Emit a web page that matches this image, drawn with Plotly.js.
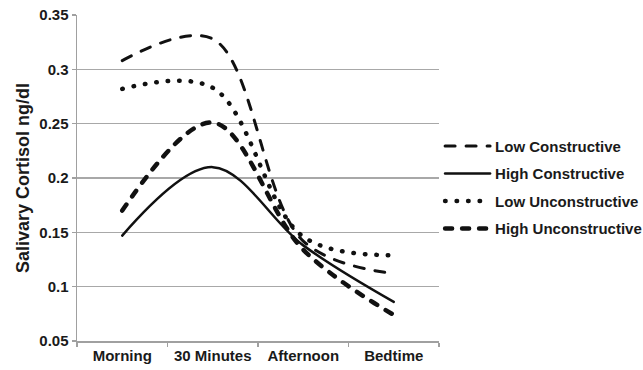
<!DOCTYPE html>
<html>
<head>
<meta charset="utf-8">
<script src="https://cdn.plot.ly/plotly-3.0.1.min.js"></script>
<style>
  html, body { margin: 0; padding: 0; background: #fff; }
  #chart { width: 643px; height: 370px; }
  path.js-line { stroke-linecap: round; }
</style>
</head>
<body>
<div id="chart"></div>
<script>
const categories = ["Morning", "30 Minutes", "Afternoon", "Bedtime"];
const seriesNames = ["Low Constructive", "High Constructive", "Low Unconstructive", "High Unconstructive"];
const lowConstructive = [0.308, 0.328, 0.142, 0.112];
const highConstructive = [0.147, 0.210, 0.138, 0.086];
const lowUnconstructive = [0.282, 0.283, 0.146, 0.129];
const highUnconstructive = [0.170, 0.251, 0.134, 0.074];
const yTickVals = [0.05, 0.1, 0.15, 0.2, 0.25, 0.3, 0.35];
const yTickText = ["0.05", "0.1", "0.15", "0.2", "0.25", "0.3", "0.35"];

const values = [lowConstructive, highConstructive, lowUnconstructive, highUnconstructive];
const lineStyles = [
  {color: "#111", width: 3, dash: "10px,11px"},
  {color: "#111", width: 2.5, dash: "solid"},
  {color: "#111", width: 4.5, dash: "0.5px,11px"},
  {color: "#111", width: 4.5, dash: "7px,10px"}
];

const traces = values.map((v, i) => ({
  type: "scatter",
  mode: "lines",
  x: categories,
  y: v,
  name: seriesNames[i],
  legendgroup: "g" + i,
  line: Object.assign({shape: "spline", smoothing: 1}, lineStyles[i]),
  hoverinfo: "skip"
}));

const fontFam = "Liberation Sans, Arial, sans-serif";
const layout = {
  width: 643,
  height: 370,
  margin: {l: 77, r: 204, t: 15, b: 29, autoexpand: false},
  paper_bgcolor: "#fff",
  plot_bgcolor: "#fff",
  showlegend: true,
  font: {family: fontFam, color: "#1a1a1a"},
  xaxis: {
    type: "category",
    range: [-0.5, 3.5],
    showgrid: false,
    zeroline: false,
    showline: true,
    linecolor: "#a0a0a0",
    linewidth: 1.5,
    ticks: "outside",
    tickson: "boundaries",
    ticklen: 4,
    tickcolor: "#a0a0a0",
    tickwidth: 1.5,
    tickangle: 0,
    tickfont: {family: fontFam, size: 15, color: "#1a1a1a", weight: "bold"}
  },
  yaxis: {
    range: [0.05, 0.35],
    tickvals: yTickVals,
    ticktext: yTickText,
    showgrid: true,
    gridcolor: "#a8a8a8",
    gridwidth: 1.6,
    zeroline: false,
    showline: true,
    linecolor: "#a0a0a0",
    linewidth: 1.5,
    ticks: "outside",
    ticklen: 4,
    tickcolor: "#a0a0a0",
    tickwidth: 1.5,
    tickfont: {family: fontFam, size: 15, color: "#1a1a1a", weight: "bold"},
    title: {text: "Salivary Cortisol ng/dl", font: {family: fontFam, size: 18, color: "#1a1a1a", weight: "bold"}, standoff: 5}
  },
  legend: {
    x: 1.003,
    xanchor: "left",
    y: 0.648,
    yanchor: "top",
    traceorder: "grouped",
    tracegroupgap: 5,
    bgcolor: "rgba(0,0,0,0)",
    borderwidth: 0,
    itemwidth: 45,
    font: {family: fontFam, size: 15, color: "#1a1a1a", weight: "bold"}
  }
};

Plotly.newPlot("chart", traces, layout, {staticPlot: true, displayModeBar: false});
</script>
</body>
</html>
